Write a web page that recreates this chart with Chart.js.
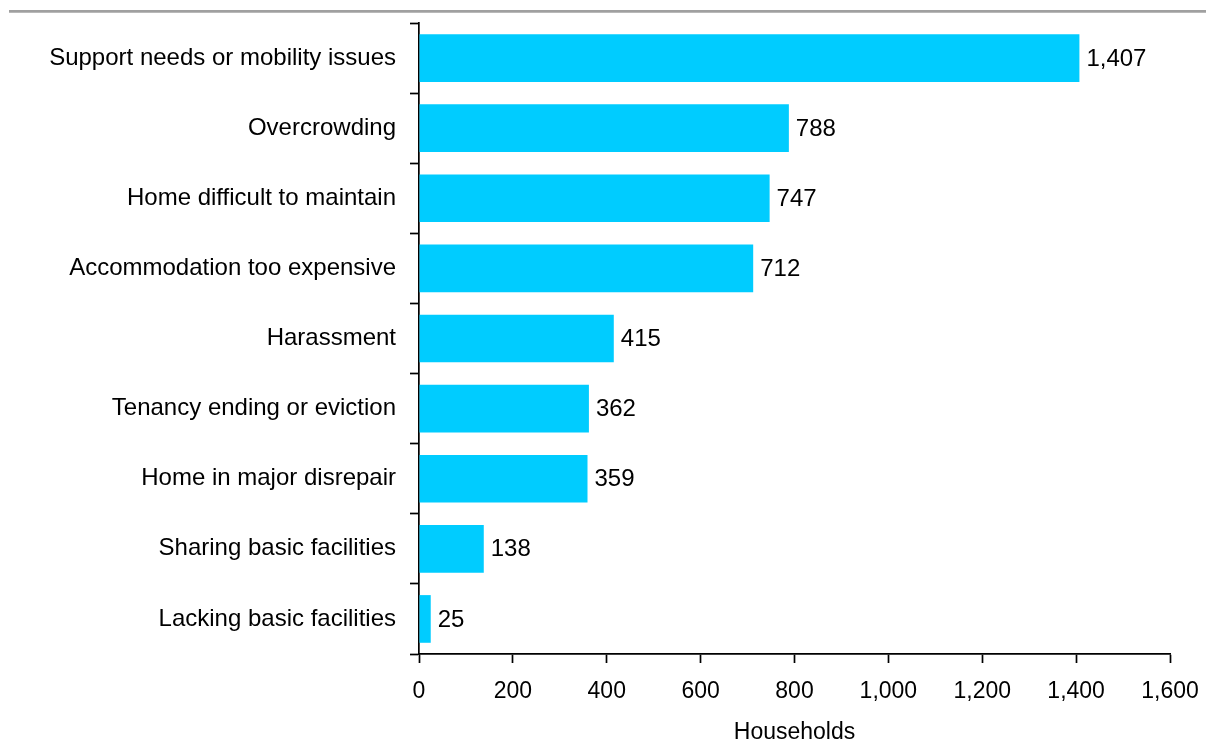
<!DOCTYPE html>
<html>
<head>
<meta charset="utf-8">
<script src="https://cdn.jsdelivr.net/npm/chart.js@4.4.0/dist/chart.umd.min.js"></script>
<style>
  html, body { margin: 0; padding: 0; background: #ffffff; }
  #wrap { width: 1206px; height: 742px; position: relative; }
</style>
</head>
<body>
<div id="wrap"><canvas id="chart" width="1206" height="742"></canvas></div>
<script>
// Reasons households gave for needing to move
const categories = [
  'Support needs or mobility issues',
  'Overcrowding',
  'Home difficult to maintain',
  'Accommodation too expensive',
  'Harassment',
  'Tenancy ending or eviction',
  'Home in major disrepair',
  'Sharing basic facilities',
  'Lacking basic facilities'
];
const households = [1407, 788, 747, 712, 415, 362, 359, 138, 25];
const xTicks = [0, 200, 400, 600, 800, 1000, 1200, 1400, 1600];
const xTitle = 'Households';

const FONT = '"Liberation Sans", Arial, sans-serif';
const fmt = v => v.toLocaleString('en-GB');

// Grey rule across the top of the figure
const topRule = {
  id: 'topRule',
  beforeDraw(chart) {
    const ctx = chart.ctx;
    ctx.save();
    ctx.strokeStyle = '#a0a0a0';
    ctx.lineWidth = 2.7;
    ctx.beginPath();
    ctx.moveTo(9, 11.3);
    ctx.lineTo(chart.width, 11.3);
    ctx.stroke();
    ctx.restore();
  }
};

// Value written just past the end of each bar
const valueLabels = {
  id: 'valueLabels',
  afterDatasetsDraw(chart) {
    const ctx = chart.ctx;
    const meta = chart.getDatasetMeta(0);
    ctx.save();
    ctx.font = '24px ' + FONT;
    ctx.fillStyle = '#000000';
    ctx.textAlign = 'left';
    ctx.textBaseline = 'middle';
    meta.data.forEach((bar, i) => {
      ctx.fillText(fmt(chart.data.datasets[0].data[i]), bar.x + 7, bar.y + 1);
    });
    ctx.restore();
  }
};

new Chart(document.getElementById('chart'), {
  type: 'bar',
  data: {
    labels: categories,
    datasets: [{
      data: households,
      backgroundColor: '#00ccff',
      borderWidth: 0,
      categoryPercentage: 0.68,
      barPercentage: 1.0
    }]
  },
  plugins: [topRule, valueLabels],
  options: {
    indexAxis: 'y',
    responsive: false,
    animation: false,
    layout: { padding: { top: 23, right: 36, left: 0, bottom: 0 } },
    plugins: {
      legend: { display: false },
      tooltip: { enabled: false }
    },
    scales: {
      y: {
        afterFit(scale) {
          scale.width = 419;
          scale.paddingTop = 0;
          scale.paddingBottom = 0;
        },
        grid: {
          offset: true,
          drawOnChartArea: false,
          tickLength: 9,
          tickColor: '#000000',
          tickWidth: 1.7
        },
        border: { color: '#000000', width: 1.7 },
        ticks: {
          color: '#000000',
          font: { family: FONT, size: 24 },
          padding: 14
        }
      },
      x: {
        min: 0,
        max: 1600,
        afterBuildTicks(scale) { scale.ticks = xTicks.map(v => ({ value: v })); },
        afterFit(scale) {
          scale.height = 88;
          scale.paddingLeft = 0;
          scale.paddingRight = 0;
        },
        grid: {
          drawOnChartArea: false,
          tickLength: 9,
          tickColor: '#000000',
          tickWidth: 1.7
        },
        border: { color: '#000000', width: 1.7 },
        ticks: {
          color: '#000000',
          font: { family: FONT, size: 23 },
          padding: 15,
          maxRotation: 0,
          callback: v => fmt(v)
        },
        title: {
          display: true,
          text: xTitle,
          color: '#000000',
          font: { family: FONT, size: 23 },
          padding: { top: 8, bottom: -4 }
        }
      }
    }
  }
});
</script>
</body>
</html>
